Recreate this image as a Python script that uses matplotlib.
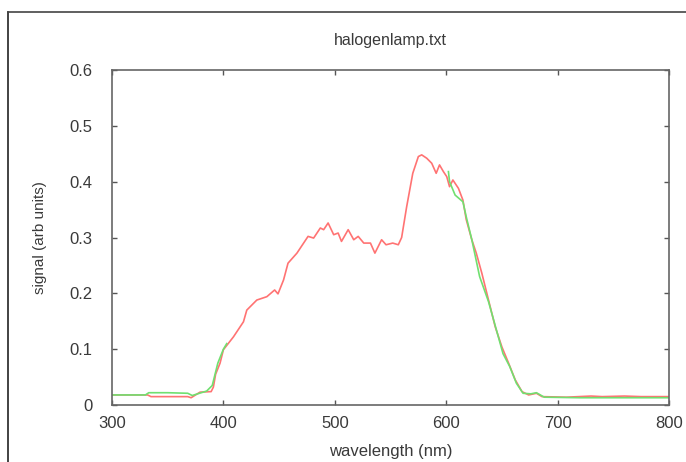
#spectrum of the halogen lamp, red = full scan, green = the two edge scans
import matplotlib
matplotlib.use("Agg")
import matplotlib.pyplot as plt
from matplotlib.lines import Line2D

plt.rcParams["font.family"] = ["Liberation Sans", "DejaVu Sans"]

red_wl = [300, 332, 335, 350, 368, 371, 379, 389, 391, 393, 397, 400, 409, 418, 421, 430, 439,
          446, 449, 454, 458, 466, 476, 481, 487, 490, 494, 499, 503, 506, 512, 517, 521, 526,
          532, 536, 542, 546, 552, 557, 560, 564.5, 570, 575, 578, 582.5, 587, 591, 594, 597.5,
          600.5, 603, 606, 611, 615, 618, 623, 627, 632, 638, 644, 650, 656, 662, 668, 674,
          681, 686, 708, 730, 740, 760, 775, 800]
red_sig = [0.018, 0.018, 0.015, 0.015, 0.015, 0.013, 0.023, 0.024, 0.032, 0.055, 0.075, 0.099,
           0.122, 0.149, 0.170, 0.188, 0.194, 0.206, 0.199, 0.224, 0.254, 0.272, 0.302, 0.299,
           0.317, 0.314, 0.326, 0.305, 0.308, 0.293, 0.314, 0.296, 0.302, 0.290, 0.290, 0.272,
           0.296, 0.287, 0.290, 0.287, 0.300, 0.355, 0.415, 0.445, 0.448, 0.442, 0.433, 0.415,
           0.430, 0.418, 0.409, 0.391, 0.403, 0.388, 0.367, 0.332, 0.296, 0.272, 0.236, 0.188,
           0.140, 0.104, 0.075, 0.045, 0.024, 0.018, 0.021, 0.015, 0.014, 0.016, 0.015, 0.016,
           0.015, 0.015]

green_lo_wl = [300, 330, 333, 350, 368, 372, 385, 390, 395, 400, 403]
green_lo_sig = [0.018, 0.018, 0.022, 0.022, 0.021, 0.017, 0.025, 0.035, 0.075, 0.100, 0.110]

green_hi_wl = [602, 603, 608, 615, 618, 623, 630, 638, 645, 651, 657, 663, 669, 676, 681,
               688, 720, 800]
green_hi_sig = [0.418, 0.400, 0.376, 0.364, 0.337, 0.296, 0.230, 0.185, 0.135, 0.092, 0.069,
                0.039, 0.021, 0.020, 0.022, 0.014, 0.013, 0.013]

fig = plt.figure(figsize=(6.86, 4.62), dpi=100)
ax = fig.add_axes([112/686, 57/462, 557/686, 335/462])

ax.plot(red_wl, red_sig, color="#ff7373", lw=1.2)
ax.plot(green_lo_wl, green_lo_sig, color="#70e070", lw=1.2)
ax.plot(green_hi_wl, green_hi_sig, color="#70e070", lw=1.2)

ax.set_xlim(300, 800)
ax.set_ylim(0, 0.6)
ax.set_xticks([300, 400, 500, 600, 700, 800])
ax.set_yticks([0, 0.1, 0.2, 0.3, 0.4, 0.5, 0.6])
ax.set_yticklabels(["0", "0.1", "0.2", "0.3", "0.4", "0.5", "0.6"])
ax.tick_params(direction="in", length=3.5, width=1, color="#555555", labelsize=12,
               labelcolor="#3a3a3a", top=True, right=True)
ax.tick_params(axis="y", pad=14)
ax.tick_params(axis="x", pad=8)
for s in ax.spines.values():
    s.set_color("#666666")
    s.set_linewidth(1.2)

ax.set_title("halogenlamp.txt", fontsize=11.5, color="#3a3a3a", pad=18)
ax.set_xlabel("wavelength (nm)", fontsize=12, color="#3a3a3a", labelpad=9)
ax.set_ylabel("signal (arb units)", fontsize=11, color="#3a3a3a", labelpad=16)

#outer frame, only the left and top edges are in view
fig.add_artist(Line2D([8/686, 8/686], [0, 1 - 12/462], transform=fig.transFigure, color="#222222", lw=1.2))
fig.add_artist(Line2D([8/686, 1], [1 - 12/462, 1 - 12/462], transform=fig.transFigure, color="#444444", lw=1.2))

fig.savefig("out.png", dpi=100)
